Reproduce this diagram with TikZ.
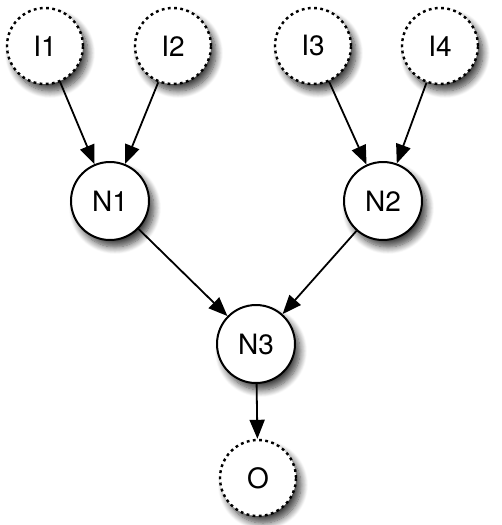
\documentclass[tikz,border=0pt]{standalone}
\usepackage{fontspec}
\setmainfont{TeX Gyre Heros}
\usetikzlibrary{arrows.meta,shadows.blur}
\begin{document}
\begin{tikzpicture}[x=1pt,y=-1pt,
  base/.style={circle,fill=white,minimum size=76pt,inner sep=0pt,
    font=\fontsize{28}{32}\selectfont,
    blur shadow={shadow xshift=5pt,shadow yshift=-7pt,shadow blur steps=10,shadow blur radius=7pt,shadow opacity=75}},
  io/.style={base,draw,line width=2.4pt,dash pattern=on 2.8pt off 3.4pt},
  hid/.style={base,draw,line width=2pt,minimum size=78pt},
  conn/.style={line width=1.8pt,-{Triangle[length=19pt,width=15pt]}}]
\useasboundingbox (0,0) rectangle (501,525);
\node[io] (I1) at (45,46) {I1};
\node[io] (I2) at (173,46) {I2};
\node[io] (I3) at (313,46) {I3};
\node[io] (I4) at (440,46) {I4};
\node[hid] (N1) at (110,201) {N1};
\node[hid] (N2) at (383,201) {N2};
\node[hid] (N3) at (256,344) {N3};
\node[io] (O) at (258,478) {O};
\draw[conn] (I1) -- (N1);
\draw[conn] (I2) -- (N1);
\draw[conn] (I3) -- (N2);
\draw[conn] (I4) -- (N2);
\draw[conn] (N1) -- (N3);
\draw[conn] (N2) -- (N3);
\draw[conn] (N3) -- (O);
\end{tikzpicture}
\end{document}
